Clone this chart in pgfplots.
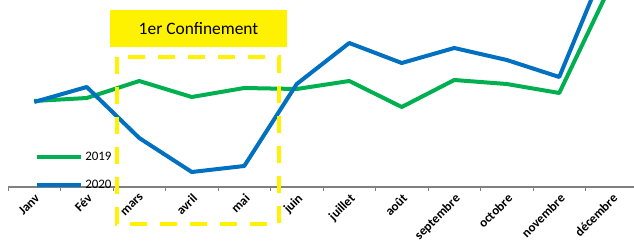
\documentclass[border=0pt]{standalone}
\usepackage{pgfplots}
\pgfplotsset{compat=1.18}
\usepackage{fontspec}
\setmainfont{Carlito}
\definecolor{g19}{RGB}{0,176,80}
\definecolor{b20}{RGB}{0,112,192}
\definecolor{axgray}{RGB}{128,128,128}
\begin{document}
\begin{tikzpicture}
\useasboundingbox (0,0) rectangle (634bp,244bp);
\begin{axis}[
 at={(8bp,57bp)}, anchor=south west,
 scale only axis, width=630bp, height=187bp,
 xmin=-0.5, xmax=11.5, ymin=0, ymax=187,
 clip=false,
 axis x line=bottom, axis y line=none, ytick=\empty,
 x axis line style={axgray, line width=1.5bp, -},
 xtick={0,...,11},
 xticklabels={Janv,Fév,mars,avril,mai,juin,juillet,août,septembre,octobre,novembre,décembre},
 major x tick style={draw=none},
 minor xtick={-0.5,0.5,...,11.5},
 minor x tick style={axgray, line width=1bp},
 minor tick length=3.5bp,
 tick align=outside,
 xticklabel style={rotate=45, anchor=north east, font=\fontsize{13}{15}\selectfont\bfseries, inner sep=1bp},
 legend style={draw=none, fill=none, at={(rel axis cs:0.043,0.2)}, anchor=north west, legend cell align=left, row sep=14bp, font=\fontsize{13}{15}\selectfont, inner sep=0pt},
 legend image code/.code={\draw[#1] (0bp,0bp) -- (44bp,0bp);},
]
\addplot[g19, line width=4bp, line join=round] coordinates {
 (0,86) (1,89) (2,106) (3,90) (4,99) (5,98) (6,106) (7,80) (8,107) (9,103) (10,94) (11,204)};
\addlegendentry{2019}
\addplot[b20, line width=4bp, line join=round] coordinates {
 (0,85) (1,100) (2,49) (3,15) (4,21) (5,103) (6,144) (7,124) (8,139) (9,127) (10,110) (11,237)};
\addlegendentry{2020}
\draw[yellow, line width=3.5bp, dash pattern=on 17bp off 13bp] (axis cs:1.576,130) rectangle (axis cs:4.662,-37);
\node[fill=yellow, minimum width=177bp, minimum height=37bp, font=\fontsize{17.5}{20}\selectfont, inner sep=0pt] at (axis cs:3.129,158.5) {1er Confinement};
\end{axis}
\end{tikzpicture}
\end{document}
